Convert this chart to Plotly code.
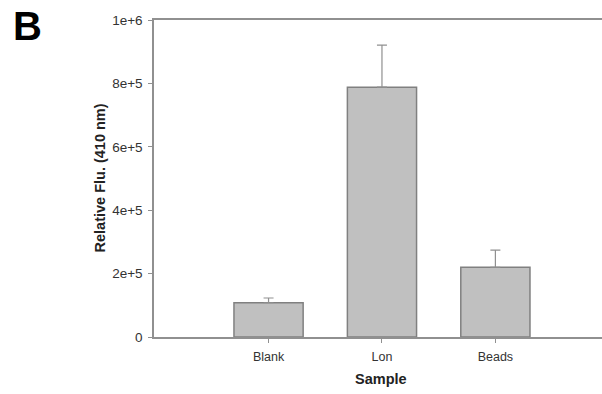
import plotly.graph_objects as go

categories = ["Blank", "Lon", "Beads"]
values = [108000, 788000, 220000]
errors = [15000, 133000, 54000]
y_tick_vals = [0, 200000, 400000, 600000, 800000, 1000000]
y_tick_text = ["0", "2e+5", "4e+5", "6e+5", "8e+5", "1e+6"]

font = "Liberation Sans, Arial, sans-serif"
W, H = 602, 394
L, R, T, B = 154, 0, 20, 57
PW, PH = W - L - R, H - T - B

fig = go.Figure()
fig.add_trace(go.Bar(
    x=categories, y=values, width=0.61,
    marker=dict(color="#c0c0c0", line=dict(color="#808080", width=1.5)),
    error_y=dict(type="data", array=errors, arrayminus=[0, 0, 0], symmetric=False,
                 color="#909090", thickness=1.2, width=5),
))

fig.update_layout(
    width=W, height=H,
    margin=dict(l=L, r=R, t=T, b=B, autoexpand=False),
    plot_bgcolor="white", paper_bgcolor="white",
    showlegend=False,
    font=dict(family=font, size=12, color="#333333"),
    xaxis=dict(
        type="category", range=[-1.01, 2.94],
        showline=True, linecolor="#909090", linewidth=1.5, mirror=True,
        ticks="outside", ticklen=4, tickcolor="#909090", tickwidth=1,
        showgrid=False, tickfont=dict(size=12.5, color="#333333"),
        ticklabelstandoff=3,
    ),
    yaxis=dict(
        range=[0, 1000000], tickvals=y_tick_vals, ticktext=y_tick_text,
        showline=True, linecolor="#909090", linewidth=1.5,
        ticks="outside", ticklen=4, tickcolor="#909090", tickwidth=1,
        showgrid=False, zeroline=False, tickfont=dict(size=13.5, color="#333333"),
        ticklabelstandoff=3,
    ),
    annotations=[
        dict(text="<b>B</b>", x=(11 - L) / PW, y=1 + (20 - 26.5) / PH, xref="paper", yref="paper",
             xanchor="left", yanchor="middle", showarrow=False,
             font=dict(size=40, color="black", family=font)),
        dict(text="<b>Sample</b>", x=(381 - L) / PW, y=-(379 - T - PH) / PH,
             xref="paper", yref="paper", xanchor="center", yanchor="middle",
             showarrow=False, font=dict(size=14.5, color="#222222", family=font)),
        dict(text="<b>Relative Flu. (410 nm)</b>", x=(99 - L) / PW, y=1 - (178.5 - T) / PH,
             xref="paper", yref="paper", xanchor="center", yanchor="middle", textangle=-90,
             showarrow=False, font=dict(size=14.5, color="#222222", family=font)),
    ],
)
fig.write_html("out.html", config={"displayModeBar": False},
               post_script="document.body.style.margin='0';")
